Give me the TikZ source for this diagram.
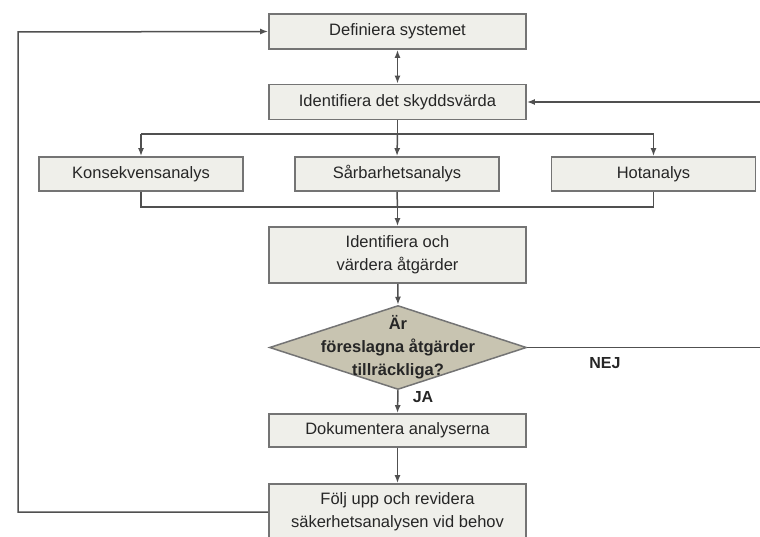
\documentclass[tikz,border=0pt]{standalone}
\usepackage{fontspec}
\setmainfont{Liberation Sans}
\usetikzlibrary{arrows.meta,shapes.geometric}
\definecolor{boxfill}{HTML}{EFEFEA}
\definecolor{boxline}{HTML}{747474}
\definecolor{diafill}{HTML}{C8C4B1}
\definecolor{conn}{HTML}{505050}
\begin{document}
\begin{tikzpicture}[x=1pt,y=-1pt,
  box/.style={draw=boxline,line width=1.8pt,fill=boxfill,inner sep=0pt,align=center,
    font=\fontsize{16.5}{23}\selectfont,text=black!85},
  diashape/.style={diamond,draw=boxline,line width=1.5pt,fill=diafill,inner sep=0pt,
    minimum width=257pt,minimum height=84pt},
  conline/.style={draw=conn,line width=1.5pt},
  arr/.style={conline,-{Latex[length=8pt,width=6pt]}},
  lbl/.style={font=\bfseries\fontsize{16}{19}\selectfont,text=black!85}]
\useasboundingbox (0,0) rectangle (760,537);
\node[box,minimum width=257pt,minimum height=35pt] (def) at (397.5,31.5) {Definiera systemet};
\node[box,minimum width=257pt,minimum height=35pt] (ide) at (397.5,102) {Identifiera det skyddsvärda};
\node[box,minimum width=204pt,minimum height=34pt] (kon) at (141,174) {Konsekvensanalys};
\node[box,minimum width=204pt,minimum height=34pt] (sar) at (397,174) {Sårbarhetsanalys};
\node[box,minimum width=204pt,minimum height=34pt] (hot) at (653.5,174) {Hotanalys};
\node[box,minimum width=257pt,minimum height=56pt] (atg) at (397.5,255) {Identifiera och\\värdera åtgärder};
\node[diashape] (dia) at (398,347.5) {};
\node[lbl,align=center,font=\bfseries\fontsize{16.5}{23}\selectfont] (diat) at (dia.center) {Är\\föreslagna åtgärder\\tillräckliga?};
\node[box,minimum width=257pt,minimum height=33pt] (dok) at (397.5,430.5) {Dokumentera analyserna};
\node[box,minimum width=257pt,minimum height=56pt] (fol) at (397.5,512) {Följ upp och revidera\\säkerhetsanalysen vid behov};
\node[lbl] (ja) at (423,397) {JA};
\node[lbl] (nej) at (605,363) {NEJ};
\coordinate (bt) at (397.5,134);
\coordinate (bb) at (397.5,207);
% bidirectional
\draw[conline,{Latex[length=8pt,width=6pt]}-{Latex[length=8pt,width=6pt]}] (def) -- (ide);
% upper bus
\draw[conline] (ide) -- (bt);
\draw[conline] (kon.north |- bt) -- (hot.north |- bt);
\draw[arr] (kon.north |- bt) -- (kon.north);
\draw[arr] (bt) -- (sar.north);
\draw[arr] (hot.north |- bt) -- (hot.north);
% lower bus
\draw[conline] (kon.south) -- (kon.south |- bb) -- (hot.south |- bb) -- (hot.south);
\draw[conline] (sar.south) -- (bb);
\draw[arr] (bb) -- (atg.north);
\draw[arr] (atg) -- (dia.north);
\draw[arr] (dia.south) -- (dok.north);
\draw[arr] (dok) -- (fol);
% NEJ loop
\draw[arr] (dia.east) -- (764,347.5) -- (764,102) -- (ide.east);
% feedback loop
\draw[arr] (fol.west) -- (18,512) -- (18,32) -- (def.west);
\end{tikzpicture}
\end{document}
